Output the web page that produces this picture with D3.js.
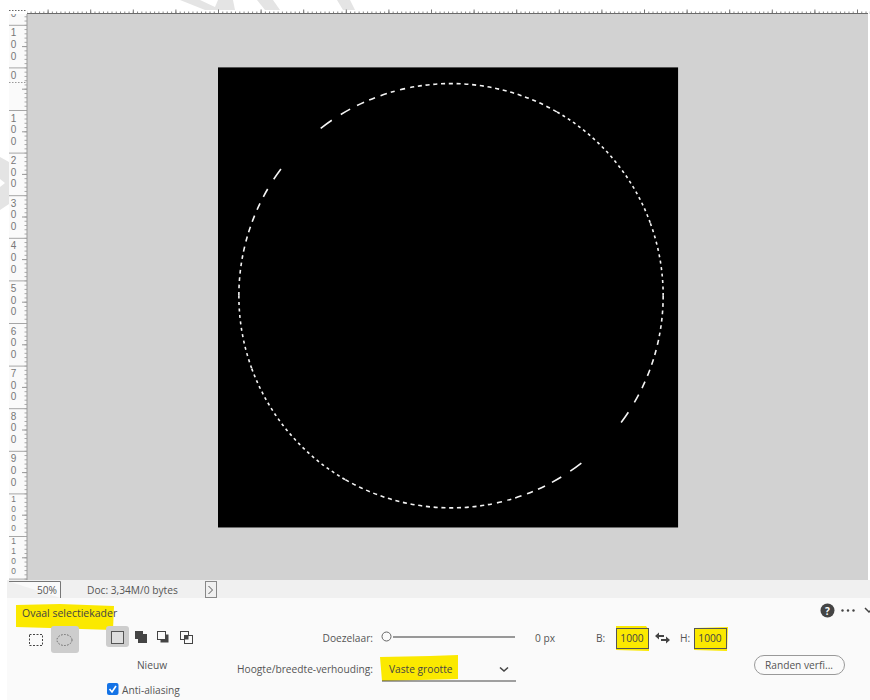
<!DOCTYPE html>
<html lang="nl">
<head>
<meta charset="utf-8">
<title>Ovaal selectiekader</title>
<script src="https://cdn.jsdelivr.net/npm/d3@7"></script>
<style>
  html, body { margin: 0; padding: 0; background: #fff; }
  svg { display: block; }
  text { font-family: "Open Sans", "Noto Sans", sans-serif; font-size: 10.2px; fill: #555; }
  .digit { font-family: "Liberation Sans", sans-serif; fill: #777; }
</style>
</head>
<body>
<div id="chart"></div>
<script>
// ruler values, in document pixels
var rulerLabels = [-200, -100, 0, 100, 200, 300, 400, 500, 600, 700, 800, 900, 1000, 1100, 1200];
var docSize = [1080, 1080];
var ringCentre = [547, 536];
var ringRadius = 498;

// marching ants, read off one half of the ring, degrees clockwise from the top
// the other half is the same thing turned by 180
var halfTurns = [0, 180];
var antFrom = [-37.9, -31.3, -26.3, -22.7, -19.4, -16.5, -13.9, -11.1, 30, 70, 90, 102, 107.4, 110.4, 113.9, 117.8, 123.3];
var antTo = [-31.3, -26.3, -22.7, -19.4, -16.5, -13.9, -11.1, 30, 70, 90, 102, 107.4, 110.4, 113.9, 117.8, 123.3, 126.7];
var antDash = [3.7, 2.9, 2.1, 1.7, 1.8, 1.1, 1.4, 1.1, 0.8, 0.8, 1.0, 1.4, 1.6, 1.8, 1.9, 2.4, 3.4];
var antGap = [2.9, 2.1, 1.5, 1.6, 1.1, 1.5, 1.4, 1.0, 0.9, 0.95, 1.0, 1.4, 1.4, 1.7, 2.0, 3.1, 0];

var W = 870, H = 700;

var svg = d3.select("#chart").append("svg").attr("width", W).attr("height", H);

var x = d3.scaleLinear().domain([0, 1000]).range([218, 644]);
var y = d3.scaleLinear().domain([0, 1000]).range([67.4, 493.4]);

svg.append("defs").append("clipPath").attr("id", "leftclip")
    .append("rect").attr("x", 9).attr("y", 14).attr("width", 18).attr("height", 566);
svg.select("defs").append("clipPath").attr("id", "topclip")
    .append("rect").attr("x", 27).attr("y", 8).attr("width", W - 27).attr("height", 6);

// faint watermark pieces behind the screenshot
var wm = svg.append("g").attr("fill", "#e4e4e4");
wm.append("path").attr("d", "M180,0L200,0L215,7L218,0L233,0L235,10L205,10Z");
wm.append("path").attr("d", "M257,0L273,0L280,10L265,10Z");
wm.append("path").attr("d", "M337,0L350,0L355,10L343,10Z");
wm.append("path").attr("d", "M0,157L9,162L9,204L0,210L0,187L5,183L0,179Z");

// canvas + document
svg.append("rect").attr("x", 9).attr("y", 14).attr("width", 18).attr("height", 566).attr("fill", "#fafafa");
svg.append("rect").attr("x", 27).attr("y", 14).attr("width", 841).attr("height", 566).attr("fill", "#d2d2d2");
svg.append("rect")
    .attr("x", x(0)).attr("y", y(0))
    .attr("width", x(docSize[0]) - x(0)).attr("height", y(docSize[1]) - y(0))
    .attr("fill", "#000");

// selection ring
var angle = d3.scaleLinear().domain([0, 360]).range([0, 2 * Math.PI]);
var rPx = x(ringRadius) - x(0);
var ants = [];
halfTurns.forEach(function(turn) {
    antFrom.forEach(function(from, i) {
        var a = from;
        while (a < antTo[i] - 0.2) {
            ants.push({start: turn + a, end: turn + Math.min(a + antDash[i], antTo[i])});
            a += antDash[i] + antGap[i];
        }
    });
});
var arc = d3.arc()
    .innerRadius(rPx - 0.8)
    .outerRadius(rPx + 0.8)
    .startAngle(function(d) { return angle(d.start); })
    .endAngle(function(d) { return angle(d.end); });
svg.append("g")
    .attr("transform", "translate(" + x(ringCentre[0]) + "," + y(ringCentre[1]) + ")")
    .selectAll("path")
    .data(ants)
    .enter()
    .append("path")
    .attr("d", arc)
    .attr("fill", "#f4f4f4");

// left ruler
function styleAxis(g, colour) {
    g.select(".domain").remove();
    g.selectAll("line").attr("stroke", colour);
    g.selectAll("text").remove();
}
var left = svg.append("g").attr("clip-path", "url(#leftclip)");
left.append("g").attr("transform", "translate(27,0)")
    .call(d3.axisLeft(y).tickValues(d3.range(-200, 1210, 10)).tickSize(2.5).tickFormat(""))
    .call(styleAxis, "#aaa");
left.append("g").attr("transform", "translate(27,0)")
    .call(d3.axisLeft(y).tickValues(d3.range(-150, 1210, 100)).tickSize(5).tickFormat(""))
    .call(styleAxis, "#999");
left.append("g").attr("transform", "translate(27,0)")
    .call(d3.axisLeft(y).tickValues(rulerLabels).tickSize(18).tickFormat(""))
    .call(styleAxis, "#a6a6a6");

// digits stacked one under the other, each its own text like the ruler prints them
rulerLabels.forEach(function(v) {
    var four = Math.abs(v) >= 1000;
    var step = four ? 9.7 : 11.6;
    var first = y(v) + (four ? 5.5 : 8);
    String(Math.abs(v)).split("").forEach(function(digit, i) {
        var py = first + i * step;
        if (py < 8 || py > 580) return;
        left.append("text")
            .attr("class", "digit")
            .attr("x", 13.5)
            .attr("y", py)
            .attr("dy", "0.35em")
            .attr("text-anchor", "middle")
            .style("font-size", four ? "8.4px" : "10px")
            .text(digit);
    });
});
// selection marker on the ruler
svg.append("line").attr("x1", 9).attr("x2", 27).attr("y1", 82.5).attr("y2", 82.5)
    .attr("stroke", "#999").attr("stroke-dasharray", "1.5,1.5");
svg.append("line").attr("x1", 9).attr("x2", 27).attr("y1", 10.5).attr("y2", 10.5)
    .attr("stroke", "#666").attr("stroke-dasharray", "1.5,1.5");

// top ruler
var top_ = svg.append("g").attr("clip-path", "url(#topclip)");
top_.append("g").attr("transform", "translate(0,14)")
    .call(d3.axisTop(x).tickValues(d3.range(-450, 1540, 10)).tickSize(2.5).tickFormat(""))
    .call(styleAxis, "#888");
top_.append("g").attr("transform", "translate(0,14)")
    .call(d3.axisTop(x).tickValues(d3.range(-400, 1540, 100)).tickSize(4.5).tickFormat(""))
    .call(styleAxis, "#777");
svg.append("line").attr("x1", 27).attr("x2", 868).attr("y1", 13.5).attr("y2", 13.5).attr("stroke", "#6a6a6a");
svg.append("line").attr("x1", 27).attr("x2", 27).attr("y1", 14).attr("y2", 580).attr("stroke", "#999");

// status bar
svg.append("rect").attr("x", 7).attr("y", 580).attr("width", W - 7).attr("height", 19).attr("fill", "#f0f0f0");
svg.append("path").attr("d", "M9,581.5H60.5V598").attr("fill", "#fafafa").attr("stroke", "#777");
svg.append("rect").attr("x", 205.5).attr("y", 581.5).attr("width", 11).attr("height", 16).attr("fill", "none").attr("stroke", "#888");
svg.append("path").attr("d", "M208.5,586L212.5,590L208.5,594").attr("fill", "none").attr("stroke", "#555");

// options bar
svg.append("rect").attr("x", 7).attr("y", 598).attr("width", W - 7).attr("height", 102).attr("fill", "#fafafa");

// marker highlights
var marker = svg.append("g").attr("fill", "#fbe900");
marker.append("path").attr("d", "M16,605L60,604L114,606L113,630L50,628L16,627Z");
marker.append("path").attr("d", "M380,657L430,656L458,655L458,679L382,681Z");
marker.append("path").attr("d", "M616,626L646,626L649,630L649,651L616,650Z");
marker.append("path").attr("d", "M694,628L728,627L727,651L694,650Z");

// button sits under its label
svg.append("rect").attr("x", 754.5).attr("y", 655.5).attr("width", 90).attr("height", 19).attr("rx", 9.5)
    .attr("fill", "#fafafa").attr("stroke", "#999");

function label(txt, px, py, anchor) {
    return svg.append("text").attr("x", px).attr("y", py).attr("text-anchor", anchor || "start").text(txt);
}
label("50%", 57, 594, "end");
label("Doc: 3,34M/0 bytes", 87, 593.5);
label("Ovaal selectiekader", 22, 617).style("fill", "#444").style("font-size", "10.5px");
label("Nieuw", 152, 669, "middle");
label("Anti-aliasing", 122, 694);
label("Doezelaar:", 373, 642, "end");
label("0 px", 535, 642);
label("Hoogte/breedte-verhouding:", 373, 673, "end");
label("Vaste grootte", 389, 673).style("fill", "#444");
label("B:", 596, 642);
label("1000", 632, 642, "middle").style("fill", "#444");
label("H:", 680, 642);
label("1000", 710, 642, "middle").style("fill", "#444");
label("Randen verfi...", 799, 669, "middle");

// tool icons
svg.append("rect").attr("x", 29.5).attr("y", 634.5).attr("width", 13).attr("height", 11)
    .attr("fill", "none").attr("stroke", "#444").attr("stroke-dasharray", "2,1.5");
svg.append("rect").attr("x", 51).attr("y", 626).attr("width", 28).attr("height", 27).attr("rx", 3).attr("fill", "#cdcdcd");
svg.append("ellipse").attr("cx", 64.5).attr("cy", 640).attr("rx", 7.5).attr("ry", 5.5)
    .attr("fill", "none").attr("stroke", "#666").attr("stroke-dasharray", "1.5,1.5");

svg.append("rect").attr("x", 106).attr("y", 626).attr("width", 23).attr("height", 21).attr("rx", 3).attr("fill", "#cdcdcd");
svg.append("rect").attr("x", 111.5).attr("y", 631.5).attr("width", 12).attr("height", 12).attr("fill", "#dedede").attr("stroke", "#555");
svg.append("rect").attr("x", 135).attr("y", 631).attr("width", 8).attr("height", 8).attr("fill", "#444");
svg.append("rect").attr("x", 138).attr("y", 634).attr("width", 9).attr("height", 9).attr("fill", "#444");
svg.append("rect").attr("x", 160.5).attr("y", 634.5).attr("width", 8).attr("height", 8).attr("fill", "#444");
svg.append("rect").attr("x", 157.5).attr("y", 631.5).attr("width", 8).attr("height", 8).attr("fill", "#fafafa").attr("stroke", "#444");
svg.append("rect").attr("x", 180.5).attr("y", 631.5).attr("width", 8).attr("height", 8).attr("fill", "#fafafa").attr("stroke", "#444");
svg.append("rect").attr("x", 184.5).attr("y", 635.5).attr("width", 8).attr("height", 8).attr("fill", "#fafafa").attr("stroke", "#444");
svg.append("rect").attr("x", 184.5).attr("y", 635.5).attr("width", 4).attr("height", 4).attr("fill", "#444");

// checkbox
svg.append("rect").attr("x", 107).attr("y", 683).attr("width", 11.5).attr("height", 12).attr("rx", 2).attr("fill", "#1473e6");
svg.append("path").attr("d", "M109.5,689L112,692L116,686").attr("fill", "none").attr("stroke", "#fff").attr("stroke-width", 1.6);

// slider
svg.append("line").attr("x1", 393).attr("x2", 515).attr("y1", 637).attr("y2", 637).attr("stroke", "#777").attr("stroke-width", 1.3);
svg.append("circle").attr("cx", 386.5).attr("cy", 636.5).attr("r", 4.5).attr("fill", "#fafafa").attr("stroke", "#666");

// dropdown
svg.append("line").attr("x1", 382).attr("x2", 516).attr("y1", 681).attr("y2", 681).attr("stroke", "#444");
svg.append("path").attr("d", "M500,667.5L504,671L508,667.5").attr("fill", "none").attr("stroke", "#444").attr("stroke-width", 1.6);

// size boxes
svg.append("rect").attr("x", 616.5).attr("y", 628.5).attr("width", 32).attr("height", 20).attr("fill", "none").attr("stroke", "#555");
svg.append("rect").attr("x", 694.5).attr("y", 628.5).attr("width", 32).attr("height", 20).attr("fill", "none").attr("stroke", "#555");
svg.append("path").attr("d", "M655,636L659,632.5V635H664V637H659V639.5Z M670,640L666,636.5V639H661V641H666V643.5Z").attr("fill", "#444");

// help, more, collapse
svg.append("circle").attr("cx", 827.5).attr("cy", 610.5).attr("r", 7).attr("fill", "#444");
svg.append("text").attr("x", 827.5).attr("y", 614.5).attr("text-anchor", "middle")
    .style("font-weight", "bold").style("fill", "#fafafa").text("?");
svg.append("g").selectAll("circle").data([842.5, 848, 853.5]).enter().append("circle")
    .attr("cx", function(d) { return d; }).attr("cy", 610.5).attr("r", 1.2).attr("fill", "#444");
svg.append("path").attr("d", "M865,608L869,612L873,608").attr("fill", "none").attr("stroke", "#444").attr("stroke-width", 1.5);
</script>
</body>
</html>
